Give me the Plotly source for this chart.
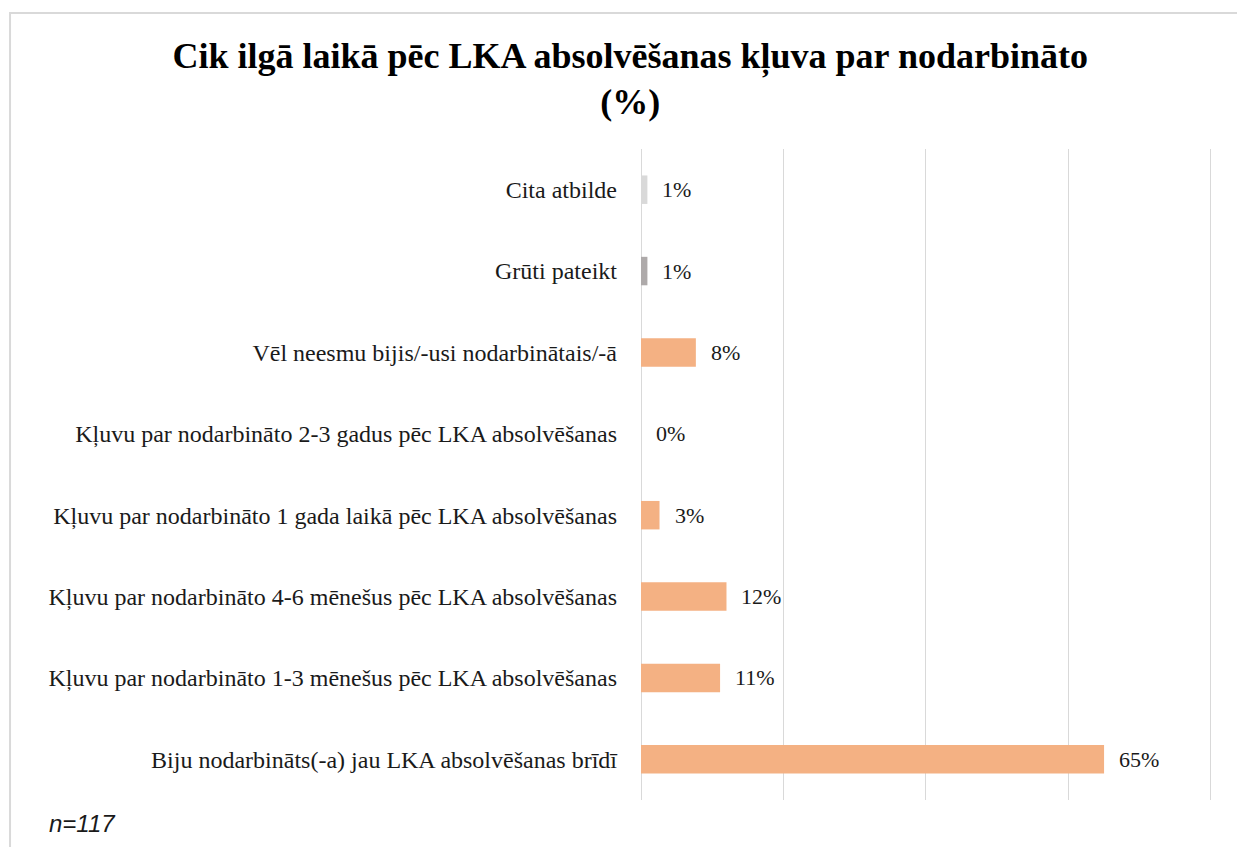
import plotly.graph_objects as go

# categories listed bottom to top, as drawn
categories = [
    "Biju nodarbināts(-a) jau LKA absolvēšanas brīdī",
    "Kļuvu par nodarbināto 1-3 mēnešus pēc LKA absolvēšanas",
    "Kļuvu par nodarbināto 4-6 mēnešus pēc LKA absolvēšanas",
    "Kļuvu par nodarbināto 1 gada laikā pēc LKA absolvēšanas",
    "Kļuvu par nodarbināto 2-3 gadus pēc LKA absolvēšanas",
    "Vēl neesmu bijis/-usi nodarbinātais/-ā",
    "Grūti pateikt",
    "Cita atbilde",
]
values = [65.0, 11.1, 12.0, 2.6, 0.0, 7.7, 0.9, 0.9]
labels = ["65%", "11%", "12%", "3%", "0%", "8%", "1%", "1%"]
colors = ["#F4B183", "#F4B183", "#F4B183", "#F4B183", "#F4B183", "#F4B183",
          "#AEAAAA", "#D9D9D9"]

serif = "Liberation Serif, Times New Roman, serif"

fig = go.Figure(go.Bar(
    x=values, y=categories, orientation="h",
    marker=dict(color=colors, line=dict(width=0)),
    width=0.35,
    hoverinfo="skip",
))

for cat, v, lab in zip(categories, values, labels):
    fig.add_annotation(x=v, y=cat, text=lab, showarrow=False,
                       xanchor="left", xshift=13,
                       font=dict(family=serif, size=22, color="#1a1a1a"))

fig.add_annotation(xref="paper", yref="paper", x=-1.04, y=-0.012,
                   xanchor="left", yanchor="top", text="<i>n=117</i>",
                   showarrow=False,
                   font=dict(family="Liberation Sans, Arial, sans-serif", size=24, color="#1a1a1a"))

# outer chart frame
fig.add_shape(type="rect", xref="paper", yref="paper",
              x0=-1.105, x1=1.07, y0=-0.08, y1=1.209,
              line=dict(color="#D9D9D9", width=2), fillcolor="rgba(0,0,0,0)",
              layer="below")

fig.update_layout(
    width=1237, height=839,
    margin=dict(l=633, r=33, t=141, b=47),
    paper_bgcolor="white", plot_bgcolor="white",
    showlegend=False,
    title=dict(text="<b>Cik ilgā laikā pēc LKA absolvēšanas kļuva par nodarbināto<br>(%)</b>",
               x=0.503, xanchor="center", y=0.929, yanchor="top",
               font=dict(family=serif, size=36, color="black")),
    xaxis=dict(range=[0, 80.15], dtick=20, showticklabels=False,
               showgrid=True, gridcolor="#D9D9D9", gridwidth=1,
               zeroline=True, zerolinecolor="#D9D9D9", zerolinewidth=1,
               fixedrange=True),
    yaxis=dict(categoryorder="array", categoryarray=categories,
               showgrid=False, ticklabelstandoff=23,
               tickfont=dict(family=serif, size=24, color="#1a1a1a"),
               fixedrange=True),
)

fig.write_html("out.html")
